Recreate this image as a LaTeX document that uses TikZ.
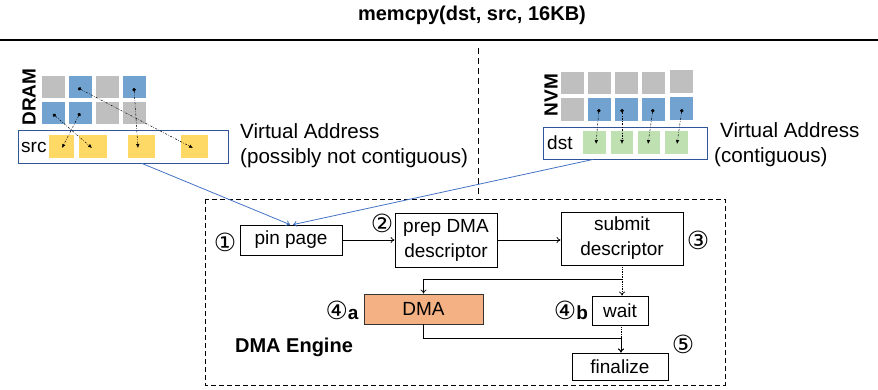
\documentclass[tikz,border=0pt]{standalone}
\usepackage{fontspec}
\setmainfont{Liberation Sans}
\newfontfamily\circfont{DejaVu Sans}
\usetikzlibrary{arrows.meta}

\definecolor{cellgray}{HTML}{BFBFBF}
\definecolor{cellblue}{HTML}{72A3D0}
\definecolor{cellyellow}{HTML}{FFD966}
\definecolor{cellgreen}{HTML}{BFE0B0}
\definecolor{dmaorange}{HTML}{F4B183}
\definecolor{boxblue}{HTML}{2F5597}
\definecolor{vablue}{HTML}{4472C4}

\begin{document}
\begin{tikzpicture}[x=1pt,y=-1pt,
  every node/.style={font=\fontsize{19}{25}\selectfont, inner sep=0pt},
  stepbox/.style={draw, line width=0.8pt, align=center},
  addrbox/.style={draw=boxblue, line width=0.9pt},
  flow/.style={-{To[length=4pt,width=6pt]}, line width=0.7pt},
  waitflow/.style={flow, densely dotted},
  pagelink/.style={{Circle[length=3.5pt]}-{Latex[length=4pt,width=3.5pt]}, line width=0.5pt, dash pattern=on 2pt off 1.5pt on 0.6pt off 1.5pt},
  vaddr/.style={-{To[length=4pt,width=6pt]}, draw=vablue, line width=0.8pt},
  vatext/.style={anchor=west, align=left, font=\fontsize{20.6}{25}\selectfont},
  steplbl/.style={font=\fontsize{25}{25}\selectfont\circfont}]
\useasboundingbox (0,0) rectangle (878,390);

\node[font=\fontsize{20}{22}\selectfont\bfseries] (title) at (472,15) {memcpy(dst, src, 16KB)};
\draw[line width=1.5pt] (0,40) -- (878,40);
\draw[dashed, line width=0.9pt, dash pattern=on 6pt off 4pt] (478,48) -- (478,198);

% DRAM pages
\node[font=\fontsize{19}{22}\selectfont\bfseries, rotate=90] (dram) at (29,97) {DRAM};
\fill[cellgray] (42,76) rectangle (65,98);
\fill[cellblue] (69,76) rectangle (92,98);
\fill[cellgray] (96,76) rectangle (119,98);
\fill[cellblue] (123,76) rectangle (146,98);
\fill[cellblue] (42,102) rectangle (65,124);
\fill[cellblue] (69,102) rectangle (92,124);
\fill[cellgray] (96,102) rectangle (119,124);
\fill[cellgray] (123,102) rectangle (146,124);

\node[addrbox, minimum width=210, minimum height=33] (srcbox) at (123,146.5) {};
\node[anchor=west] (srclbl) at (21,147) {src};
\fill[cellyellow] (49,135) rectangle (74,158);
\fill[cellyellow] (79,135) rectangle (107,158);
\fill[cellyellow] (128,135) rectangle (155,158);
\fill[cellyellow] (181,135) rectangle (208,158);

\coordinate (d1) at (78,88);
\coordinate (d2) at (134,88);
\coordinate (d3) at (53,114);
\coordinate (d4) at (80,113);
\coordinate (s1) at (62,148);
\coordinate (s2) at (92,148);
\coordinate (s3) at (138,148);
\coordinate (s4) at (193,148);
\draw[pagelink] (d3) -- (s2);
\draw[pagelink] (d4) -- (s1);
\draw[pagelink] (d1) -- (s4);
\draw[pagelink] (d2) -- (s3);

\node[vatext] (srcva) at (240,145.5) {Virtual Address\\(possibly not contiguous)};

% NVM pages
\node[font=\fontsize{19}{22}\selectfont\bfseries, rotate=90] (nvm) at (551,95) {NVM};
\fill[cellgray] (561,72) rectangle (584,94);
\fill[cellgray] (588,72) rectangle (611,94);
\fill[cellgray] (615,72) rectangle (638,94);
\fill[cellgray] (642,72) rectangle (665,94);
\fill[cellgray] (670,70) rectangle (693,93);
\fill[cellgray] (561,98) rectangle (584,121);
\fill[cellblue] (588,98) rectangle (611,121);
\fill[cellblue] (615,98) rectangle (638,121);
\fill[cellblue] (642,98) rectangle (665,121);
\fill[cellblue] (670,97) rectangle (693,120);

\node[addrbox, minimum width=164, minimum height=32] (dstbox) at (625,143) {};
\node[anchor=west] (dstlbl) at (547,143) {dst};
\fill[cellgreen] (583,131) rectangle (606,154);
\fill[cellgreen] (611,131) rectangle (633,154);
\fill[cellgreen] (638,131) rectangle (660,154);
\fill[cellgreen] (665,131) rectangle (688,154);

\coordinate (n1) at (599,109);
\coordinate (n2) at (622,109);
\coordinate (n3) at (653,109);
\coordinate (n4) at (682,109);
\coordinate (t1) at (596,144);
\coordinate (t2) at (622,144);
\coordinate (t3) at (648,144);
\coordinate (t4) at (677,144);
\draw[pagelink] (n1) -- (t1);
\draw[pagelink] (n2) -- (t2);
\draw[pagelink] (n3) -- (t3);
\draw[pagelink] (n4) -- (t4);

\node[vatext] (dstva) at (714,145) {\hspace{6pt}Virtual Address\\(contiguous)};

% DMA engine
\draw[dashed, line width=0.8pt, dash pattern=on 5pt off 3pt] (205,199) rectangle (725,385);
\node[font=\fontsize{20}{22}\selectfont\bfseries] (engine) at (294,347) {DMA Engine};

\node[stepbox, minimum width=102, minimum height=30] (pin) at (291,240) {pin page};
\node[stepbox, minimum width=102, minimum height=54] (prep) at (446,240) {prep DMA\\descriptor};
\node[stepbox, minimum width=122, minimum height=53] (submit) at (622,238.5) {submit\\descriptor};
\node[stepbox, fill=dmaorange, draw=black!80, minimum width=119, minimum height=30] (dma) at (423.5,309) {DMA};
\node[stepbox, minimum width=56, minimum height=29] (wait) at (620,310.5) {wait};
\node[stepbox, minimum width=96, minimum height=27] (fin) at (620,366.5) {finalize};

\node[steplbl] (one) at (225,242) {①};
\node[steplbl] (two) at (382,223) {②};
\node[steplbl] (three) at (698,240) {③};
\node[steplbl] (fourA) at (342,310) {④\fontsize{19}{22}\selectfont\rmfamily\bfseries a};
\node[steplbl] (fourB) at (571,310) {④\fontsize{19}{22}\selectfont\rmfamily\bfseries b};
\node[steplbl] (five) at (683,344) {⑤};

\coordinate (split) at (622,279);
\coordinate (merge) at (621,338);

\draw[flow] (pin) -- (prep);
\draw[flow] (prep.east) -- (prep.east -| submit.west);
\draw[waitflow] (submit.south -| split) -- (split |- wait.north);
\draw[flow] (split) -| (dma);
\draw[waitflow] (wait.south -| merge) -- (merge |- fin.north);
\draw[flow] (dma) |- (merge) -- (merge |- fin.north);

\draw[vaddr] ([xshift=19pt]srcbox.south) -- ([xshift=-1pt]pin.north);
\draw[vaddr] ([xshift=-32pt]dstbox.south) -- ([xshift=2pt]pin.north);
\end{tikzpicture}
\end{document}
